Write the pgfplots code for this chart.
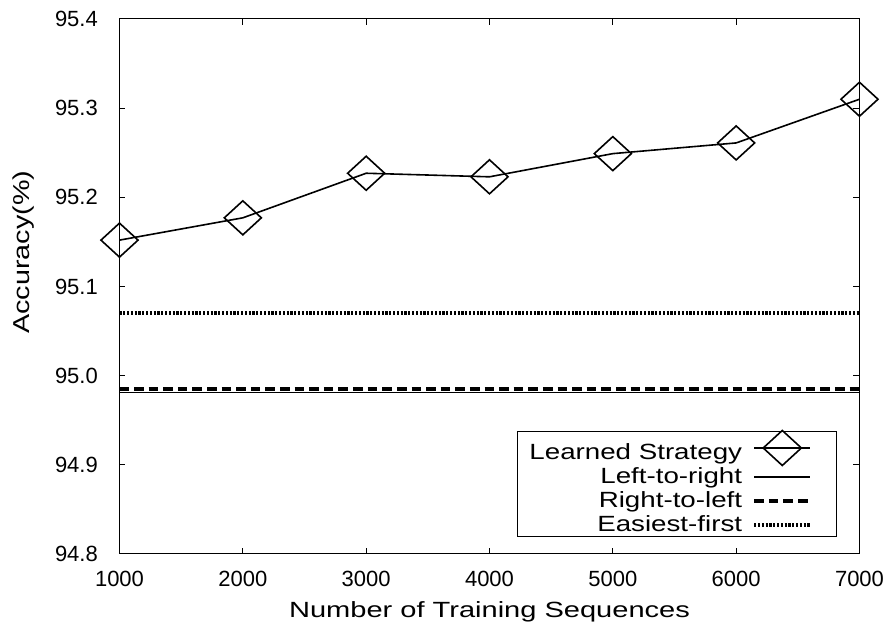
\documentclass[border=0pt]{standalone}
\usepackage{fontspec}
\setmainfont{Liberation Sans}
\usepackage{graphicx}
\usepackage{pgfplots}
\pgfplotsset{compat=1.18}
\pgfdeclareplotmark{wdiamond}{%
 \pgfpathmoveto{\pgfqpoint{0pt}{\pgfplotmarksize}}%
 \pgfpathlineto{\pgfqpoint{1.09\pgfplotmarksize}{0pt}}%
 \pgfpathlineto{\pgfqpoint{0pt}{-\pgfplotmarksize}}%
 \pgfpathlineto{\pgfqpoint{-1.09\pgfplotmarksize}{0pt}}%
 \pgfpathclose\pgfusepathqstroke}
\newcommand{\wide}[1]{\scalebox{1.32}[1]{#1}}
\newcommand{\lwide}[1]{\scalebox{1.26}[1]{#1}}
\newcommand{\lstrut}{\rule[-2.5pt]{0pt}{10.5pt}}
\newcommand{\tstrut}{\rule[-2.5pt]{0pt}{15.5pt}}

\begin{document}
\begin{tikzpicture}
\path[use as bounding box] (-59.75pt,-40.5pt) rectangle (387.75pt,277pt);
\begin{axis}[
  at={(0pt,0pt)}, anchor=south west,
  scale only axis, width=370pt, height=267.5pt,
  xmin=1000, xmax=7000, ymin=94.8, ymax=95.4,
  xtick={1000,2000,3000,4000,5000,6000,7000},
  ytick={94.8,94.9,95.0,95.1,95.2,95.3,95.4},
  tick align=inside, major tick length=3pt,
  axis line style={line width=0.5pt},
  every tick/.style={black, line width=0.5pt},
  /pgf/number format/assume math mode=true,
  ticklabel style={font=\fontsize{11}{13}\selectfont},
  xticklabel style={/pgf/number format/1000 sep={}, yshift=-5.2pt},
  yticklabel style={/pgf/number format/fixed, /pgf/number format/fixed zerofill, /pgf/number format/precision=1, xshift=-7.3pt},
  xlabel={\wide{Number of Training Sequences}},
  xlabel style={font=\fontsize{11}{13}\selectfont, at={(axis description cs:0.5,0)}, anchor=center, yshift=-29pt},
  ylabel={\scalebox{1.25}[1]{Accuracy(\%)}},
  ylabel style={font=\fontsize{11.5}{13}\selectfont, at={(axis description cs:-0.129,0.564)}, anchor=center},
  clip=false,
  legend style={at={(rel axis cs:0.9696,0.0318)}, anchor=south east, draw=black, line width=0.5pt,
    font=\fontsize{11}{13}\selectfont, inner xsep=6pt, inner ysep=1pt, row sep=2.5pt, column sep=5pt,
    nodes={inner sep=0pt}},
  legend cell align=right, legend plot pos=right,
  legend image code/.code={\draw[#1] (0pt,0pt) -- (28pt,0pt); \path (34pt,0pt);},
]
\addplot[black, line width=0.8pt, mark=wdiamond, mark size=8.5pt,
  legend image code/.code={\draw[line width=0.8pt] (0pt,0pt) -- (28pt,0pt); \path (34pt,0pt);
    \begin{scope}[overlay, line width=0.8pt, shift={(14pt,0pt)}]\pgfsetplotmarksize{8.75pt}\pgfuseplotmark{wdiamond}\end{scope}}]
  coordinates {(1000,95.152) (2000,95.177) (3000,95.227) (4000,95.223) (5000,95.249) (6000,95.261) (7000,95.310)};
\addplot[black, line width=0.8pt] coordinates {(1000,94.981) (7000,94.981)};
\addplot[black, line width=2.2pt, dash pattern=on 4.8pt off 2.5pt] coordinates {(1000,94.985) (7000,94.985)};
\addplot[black, line width=2.2pt, dash pattern=on 1.1pt off 0.8pt] coordinates {(1000,95.070) (7000,95.070)};
\legend{\lwide{\tstrut Learned Strategy}, \lwide{\lstrut Left-to-right}, \lwide{\lstrut Right-to-left}, \lwide{\lstrut Easiest-first}}
\end{axis}
\end{tikzpicture}
\end{document}
